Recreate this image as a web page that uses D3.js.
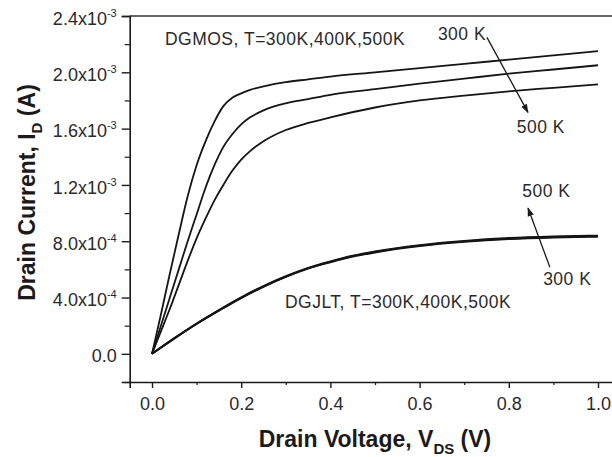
<!DOCTYPE html>
<html><head><meta charset="utf-8">
<script src="https://cdn.jsdelivr.net/npm/d3@7"></script>
<style>
body{margin:0;background:#fff;}
svg{display:block;}
text{font-family:"Liberation Sans",Arial,Helvetica,sans-serif;}
</style></head>
<body><svg id="c" width="612" height="457"></svg>
<script>
// ---- data (V in volts, I in mA) ----
const vMos = [0,0.02,0.04,0.06,0.08,0.10,0.12,0.14,0.16,0.18,0.20,0.22,0.25,0.30,0.35,0.40,0.50,0.60,0.70,0.80,0.90,1.00];
const mos300 = [0,0.28,0.57,0.85,1.12,1.34,1.51,1.65,1.76,1.82,1.85,1.875,1.90,1.93,1.95,1.97,2.00,2.03,2.06,2.09,2.12,2.15];
const mos400 = [0,0.20,0.40,0.60,0.80,0.99,1.18,1.34,1.47,1.56,1.63,1.68,1.73,1.78,1.81,1.84,1.88,1.92,1.955,1.99,2.02,2.05];
const mos500 = [0,0.16,0.32,0.49,0.66,0.82,0.96,1.09,1.20,1.30,1.38,1.44,1.51,1.59,1.64,1.68,1.75,1.80,1.835,1.865,1.89,1.915];
const vJlt = [0,0.05,0.10,0.15,0.20,0.25,0.30,0.35,0.40,0.45,0.50,0.60,0.70,0.80,0.90,1.00];
const jlt300 = [0,0.108,0.212,0.306,0.396,0.476,0.546,0.605,0.650,0.690,0.720,0.765,0.795,0.815,0.826,0.832];
const jlt400 = [0,0.110,0.214,0.309,0.399,0.479,0.549,0.608,0.654,0.694,0.724,0.769,0.799,0.819,0.830,0.836];
const jlt500 = [0,0.112,0.216,0.312,0.402,0.482,0.552,0.611,0.657,0.697,0.728,0.773,0.803,0.823,0.834,0.840];

const xTicks = [0,0.2,0.4,0.6,0.8,1.0];
const xTickLabels = ["0.0","0.2","0.4","0.6","0.8","1.0"];
const xMinor = [0.1,0.3,0.5,0.7,0.9];
const yTicks = [0,0.4,0.8,1.2,1.6,2.0,2.4];
const yTickMant = ["0.0","4.0x10","8.0x10","1.2x10","1.6x10","2.0x10","2.4x10"];
const yTickExp = ["","-4","-4","-3","-3","-3","-3"];
const yMinor = [-0.2,0.2,0.6,1.0,1.4,1.8,2.2];

const xTitle = ["Drain Voltage, V","DS"," (V)"];
const yTitle = ["Drain Current, I","D"," (A)"];

// annotations in data coords
const notes = [
  {v:0.029,i:2.193,t:"DGMOS, T=300K,400K,500K"},
  {v:0.641,i:2.227,t:"300 K"},
  {v:0.818,i:1.568,t:"500 K"},
  {v:0.830,i:1.113,t:"500 K"},
  {v:0.877,i:0.488,t:"300 K"},
  {v:0.298,i:0.325,t:"DGJLT, T=300K,400K,500K"}
];
const arrows = [
  {v1:0.751,i1:2.248,v2:0.843,i2:1.715},
  {v1:0.892,i1:0.616,v2:0.843,i2:1.036}
];

// ---- chart ----
const svg = d3.select("#c");
const x = d3.scaleLinear().domain([-0.05,1.05]).range([129.7,620.3]);
const y = d3.scaleLinear().domain([-0.2,2.4]).range([382,16]);
const ink = "#1a1a1a";

// frame top line
svg.append("line").attr("x1",x(-0.05)).attr("x2",x(1.05)).attr("y1",y(2.4)).attr("y2",y(2.4))
  .attr("stroke","#333").attr("stroke-width",1.6);

// y axis
const yAx = svg.append("g").attr("transform",`translate(${x(-0.05)},0)`)
  .call(d3.axisLeft(y).tickValues(yTicks).tickSize(8).tickPadding(5).tickFormat(()=>""));
yAx.select(".domain").attr("stroke",ink).attr("stroke-width",1.6);
yAx.selectAll(".tick line").attr("stroke",ink).attr("stroke-width",1.4);
yAx.selectAll(".tick text").each(function(d,k){
  const t = d3.select(this).attr("font-size",18).attr("fill","#2a2a2a").attr("dy","0.45em").attr("text-anchor","end");
  t.append("tspan").text(yTickMant[k]);
  if(yTickExp[k]) t.append("tspan").attr("font-size",11).attr("dy",-8).text(yTickExp[k]);
});
const yMin = svg.append("g").attr("transform",`translate(${x(-0.05)},0)`)
  .call(d3.axisLeft(y).tickValues(yMinor).tickSize(5).tickFormat(""));
yMin.select(".domain").remove();
yMin.selectAll(".tick line").attr("stroke",ink).attr("stroke-width",1.2);

// x axis
const xAx = svg.append("g").attr("transform",`translate(0,${y(-0.2)})`)
  .call(d3.axisBottom(x).tickValues(xTicks).tickSize(6).tickPadding(9).tickFormat((d,k)=>xTickLabels[k]));
xAx.select(".domain").attr("stroke",ink).attr("stroke-width",1.6);
xAx.selectAll(".tick line").attr("stroke",ink).attr("stroke-width",1.4);
xAx.selectAll(".tick text").attr("font-size",18).attr("fill","#2a2a2a").attr("font-family","Liberation Sans,Arial,sans-serif");
const xMin = svg.append("g").attr("transform",`translate(0,${y(-0.2)})`)
  .call(d3.axisBottom(x).tickValues(xMinor).tickSize(3).tickFormat(""));
xMin.select(".domain").remove();
xMin.selectAll(".tick line").attr("stroke",ink).attr("stroke-width",1.2);

// titles
const xt = svg.append("text").attr("x",x(0.5)).attr("y",447).attr("text-anchor","middle")
  .attr("font-size",23).attr("font-weight","bold").attr("fill","#1a1a1a");
xt.append("tspan").text(xTitle[0]);
xt.append("tspan").attr("font-size",15).attr("dy",7).text(xTitle[1]);
xt.append("tspan").attr("dy",-7).text(xTitle[2]);

const yt = svg.append("text").attr("transform","translate(35,192.5) rotate(-90)").attr("text-anchor","middle")
  .attr("font-size",23).attr("font-weight","bold").attr("fill","#1a1a1a");
yt.append("tspan").text(yTitle[0]);
yt.append("tspan").attr("font-size",15).attr("dy",7).text(yTitle[1]);
yt.append("tspan").attr("dy",-7).text(yTitle[2]);

// curves
const line = d3.line().x(d=>x(d[0])).y(d=>y(d[1])).curve(d3.curveMonotoneX);
const series = [
  [vMos,mos300],[vMos,mos400],[vMos,mos500],
  [vJlt,jlt300],[vJlt,jlt400],[vJlt,jlt500]
];
series.forEach(([vx,vy])=>{
  svg.append("path").datum(vx.map((v,k)=>[v,vy[k]])).attr("d",line)
    .attr("fill","none").attr("stroke","#151515").attr("stroke-width",1.8);
});

// annotations
notes.forEach(n=>{
  svg.append("text").attr("x",x(n.v)).attr("y",y(n.i)).attr("font-size",17.5)
    .attr("letter-spacing",0.5).attr("fill","#2a2a2a").text(n.t);
});
const defs = svg.append("defs");
defs.append("marker").attr("id","ah").attr("viewBox","0 0 10 10").attr("refX",9).attr("refY",5)
  .attr("markerWidth",7).attr("markerHeight",7).attr("orient","auto-start-reverse")
  .append("path").attr("d","M0,1.5 L10,5 L0,8.5 Z").attr("fill","#1a1a1a");
arrows.forEach(a=>{
  svg.append("line").attr("x1",x(a.v1)).attr("y1",y(a.i1)).attr("x2",x(a.v2)).attr("y2",y(a.i2))
    .attr("stroke","#1a1a1a").attr("stroke-width",1.3).attr("marker-end","url(#ah)");
});
</script></body></html>
